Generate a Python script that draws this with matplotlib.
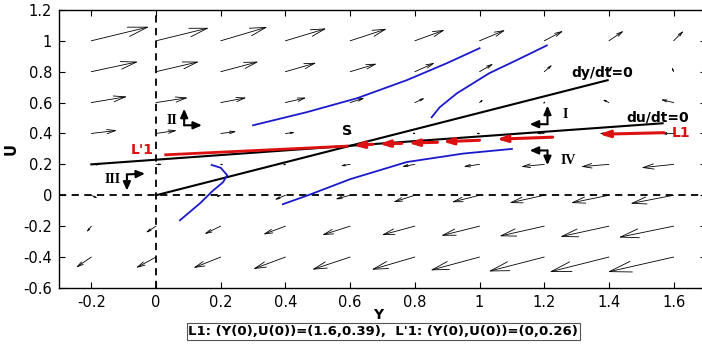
import matplotlib
matplotlib.use('Agg')
import matplotlib.pyplot as plt
import numpy as np

# direction field (tails on the grid)
GRID_Y = [-0.2, 0, 0.2, 0.4, 0.6, 0.8, 1.0, 1.2, 1.4, 1.6]
GRID_U = [1.0, 0.8, 0.6, 0.4, 0.2, 0.0, -0.2, -0.4]
DY = [
    [0.179, 0.164, 0.145, 0.127, 0.114, 0.093, 0.080, 0.059, 0.046, 0.031],
    [0.145, 0.133, 0.117, 0.096, 0.083, 0.062, 0.043, 0.025, 0.010, -0.006],
    [0.111, 0.099, 0.080, 0.065, 0.045, 0.031, 0.012, 0.003, -0.020, -0.040],
    [0.080, 0.065, 0.049, 0.030, 0.008, -0.010, -0.012, -0.025, -0.030, -0.040],
    [0.030, 0.020, 0.010, -0.010, -0.030, -0.040, -0.050, -0.072, -0.087, -0.100],
    [0.020, 0.000, -0.015, -0.034, -0.046, -0.067, -0.086, -0.108, -0.118, -0.134],
    [-0.015, -0.032, -0.051, -0.069, -0.087, -0.103, -0.119, -0.139, -0.151, -0.170],
    [-0.048, -0.062, -0.085, -0.100, -0.118, -0.134, -0.152, -0.172, -0.184, -0.204],
]
DU = [
    [0.091, 0.084, 0.090, 0.080, 0.078, 0.071, 0.070, 0.065, 0.065, 0.065],
    [0.065, 0.065, 0.065, 0.058, 0.052, 0.058, 0.052, 0.045, 0.040, 0.030],
    [0.039, 0.032, 0.032, 0.032, 0.030, 0.030, 0.020, 0.010, 0.020, 0.020],
    [0.020, 0.020, 0.013, 0.007, 0.005, 0.003, 0.000, 0.003, 0.000, 0.000],
    [0.000, 0.000, -0.003, -0.005, -0.010, -0.015, -0.015, -0.015, -0.015, -0.022],
    [-0.020, -0.010, -0.010, -0.030, -0.026, -0.045, -0.045, -0.050, -0.050, -0.054],
    [-0.040, -0.043, -0.052, -0.054, -0.058, -0.058, -0.062, -0.065, -0.069, -0.073],
    [-0.069, -0.071, -0.071, -0.078, -0.082, -0.082, -0.086, -0.093, -0.097, -0.097],
]

# nullclines
DYDT0_Y = [0.0, 1.396]
DYDT0_U = [0.0, 0.745]
DUDT0_Y = [-0.2, 1.566]
DUDT0_U = [0.2, 0.466]
S = (0.59, 0.316)

# blue trajectories
BLUE = [
    ([0.30, 0.466, 0.621, 0.775, 0.899, 1.0], [0.453, 0.538, 0.628, 0.745, 0.855, 0.952]),
    ([0.852, 0.877, 0.93, 1.03, 1.12, 1.208], [0.505, 0.57, 0.66, 0.79, 0.88, 0.97]),
    ([0.392, 0.47, 0.6, 0.775, 0.95, 1.1], [-0.058, 0.0, 0.104, 0.215, 0.27, 0.30]),
    ([0.074, 0.136, 0.176, 0.207, 0.22, 0.2, 0.172], [-0.162, -0.052, 0.03, 0.084, 0.13, 0.178, 0.196]),
]

# L1 drawn as red arrows (start -> end), L'1 as a red line
L1_START = [(1.57, 0.405), (1.226, 0.376), (1.0, 0.356), (0.87, 0.343), (0.76, 0.336), (0.67, 0.33)]
L1_END = [(1.37, 0.395), (1.053, 0.363), (0.886, 0.347), (0.78, 0.338), (0.69, 0.332), (0.61, 0.322)]
L1P_Y = [0.03, 0.59]
L1P_U = [0.262, 0.318]

# region markers: corner, vertical tip, horizontal tip, label position
REGIONS = [
    ("I", (1.21, 0.46), (1.21, 0.58), (1.155, 0.46), (1.265, 0.52)),
    ("II", (0.087, 0.453), (0.087, 0.56), (0.142, 0.453), (0.05, 0.486)),
    ("III", (-0.09, 0.135), (-0.09, 0.03), (-0.034, 0.14), (-0.135, 0.1)),
    ("IV", (1.21, 0.29), (1.21, 0.195), (1.155, 0.29), (1.275, 0.225)),
]

fig = plt.figure(figsize=(7.02, 3.49), dpi=100)
ax = fig.add_axes([0.084, 0.175, 0.9217, 0.7966])
ax.set_xlim(-0.3, 1.7)
ax.set_ylim(-0.6, 1.2)

# matlab-like quiver: thin shaft, open head scaled with the arrow length
px_x = 0.9217 * 702 / 2.0
px_y = 0.7966 * 349 / 1.8
for i, u0 in enumerate(GRID_U):
    for j, y0 in enumerate(GRID_Y):
        dx, du = DY[i][j], DU[i][j]
        L = np.hypot(dx * px_x, du * px_y)
        if L < 1.5:
            continue
        hl = 0.33 * L / (100 / 72.0)
        hw = 0.08 * L / (100 / 72.0)
        ax.annotate('', xy=(y0 + dx, u0 + du), xytext=(y0, u0),
                    arrowprops=dict(arrowstyle=f'->,head_length={hl:.3f},head_width={hw:.3f}',
                                    mutation_scale=1, color='black', lw=0.6,
                                    shrinkA=0, shrinkB=0), zorder=2)

ax.axvline(0, color='black', ls=(0, (4, 3)), lw=1.3, zorder=3)
ax.axhline(0, color='black', ls=(0, (4, 3)), lw=1.3, zorder=3)

ax.plot(DYDT0_Y, DYDT0_U, color='black', lw=1.5, zorder=4)
ax.plot(DUDT0_Y, DUDT0_U, color='black', lw=1.5, zorder=4)

for by, bu in BLUE:
    ax.plot(by, bu, color='#1a1acc', lw=1.3, zorder=4)

ax.plot(L1P_Y, L1P_U, color='#dd1111', lw=2.0, zorder=5)
for (x0, y0), (x1, y1) in zip(L1_START, L1_END):
    ax.annotate('', xy=(x1, y1), xytext=(x0, y0),
                arrowprops=dict(arrowstyle='-|>,head_length=0.6,head_width=0.2',
                                color='#dd1111', lw=2.2, shrinkA=0, shrinkB=0), zorder=5)

for name, c, v, h, t in REGIONS:
    for tip in (v, h):
        ax.annotate('', xy=tip, xytext=c,
                    arrowprops=dict(arrowstyle='-|>,head_length=0.5,head_width=0.22',
                                    color='black', lw=1.5, shrinkA=0, shrinkB=0), zorder=6)
    ax.text(t[0], t[1], name, ha='center', va='center', fontsize=10,
            family='Liberation Serif', fontweight='bold', zorder=6)

ax.text(S[0], S[1] + 0.1, 'S', ha='center', va='center', fontsize=10, fontweight='bold')
ax.text(1.38, 0.79, 'dy/dt=0', ha='center', va='center', fontsize=10, fontweight='bold')
ax.text(1.55, 0.505, 'du/dt=0', ha='center', va='center', fontsize=10, fontweight='bold')
ax.text(1.595, 0.405, 'L1', ha='left', va='center', fontsize=10, fontweight='bold', color='#dd1111')
ax.text(-0.008, 0.29, "L'1", ha='right', va='center', fontsize=10, fontweight='bold', color='#dd1111')

ax.set_xticks(np.arange(-0.2, 1.61, 0.2))
ax.set_xticklabels(['-0.2', '0', '0.2', '0.4', '0.6', '0.8', '1', '1.2', '1.4', '1.6'])
ax.set_yticks(np.arange(-0.6, 1.21, 0.2))
ax.set_yticklabels(['-0.6', '-0.4', '-0.2', '0', '0.2', '0.4', '0.6', '0.8', '1', '1.2'])
ax.tick_params(direction='in', top=True, right=True, length=4, labelsize=10.5, pad=5)
for sp in ax.spines.values():
    sp.set_linewidth(1.0)
ax.set_xlabel('Y', fontsize=10, fontweight='bold')
ax.set_ylabel('U', fontsize=10.5, fontweight='bold')
ax.xaxis.set_label_coords(0.493, -0.072)
ax.yaxis.set_label_coords(-0.063, 0.5)

fig.text(0.546, 0.05, "L1: (Y(0),U(0))=(1.6,0.39),  L'1: (Y(0),U(0))=(0,0.26)",
         ha='center', va='center', fontsize=9.5, fontweight='bold',
         bbox=dict(boxstyle='square,pad=0.12', fc='white', ec='#555555', lw=0.8))

plt.savefig('out.png', dpi=100)
